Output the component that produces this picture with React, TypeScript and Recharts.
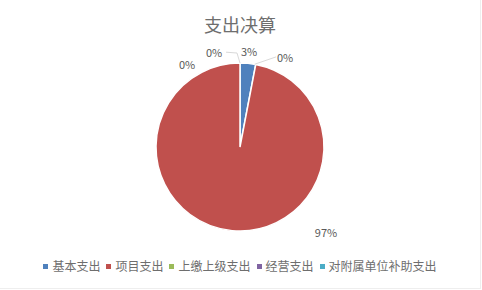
import React from "react";
import { PieChart, Pie, Cell, Legend } from "recharts";

const categories = ["基本支出", "项目支出", "上缴上级支出", "经营支出", "对附属单位补助支出"];
const values = [3, 97, 0, 0, 0];
const colors = ["#4f81bd", "#c0504d", "#9bbb59", "#8064a2", "#4bacc6"];
const title = "支出决算";

// label placement: angle (deg, counter-clockwise from 3 o'clock) and distance factor from pie centre
const labelAngles = [84.6, -44.7, 63.4, 105.3, 122.6];
const labelDist = [1.15, 1.44, 1.2, 1.17, 1.17];

const data = categories.map((name, i) => ({ name, value: values[i] }));

const FONT = "'Noto Sans CJK SC', 'Noto Sans', sans-serif";
const RAD = Math.PI / 180;

const renderLabel = (props: any) => {
  const { cx, cy, outerRadius, index, percent } = props;
  const a = labelAngles[index] * RAD;
  const d = outerRadius * labelDist[index];
  const x = cx + d * Math.cos(a);
  const y = cy - d * Math.sin(a);
  const text = `${Math.round((percent || 0) * 100)}%`;
  let line: React.ReactNode = null;
  if (index === 2) {
    const ea = 80 * RAD;
    const ex = cx + outerRadius * Math.cos(ea);
    const ey = cy - outerRadius * Math.sin(ea);
    line = (
      <polyline
        points={`${ex},${ey} ${x - 9},${y}`}
        fill="none"
        stroke="#d9d9d9"
        strokeWidth={1}
      />
    );
  } else if (index === 3) {
    const ex = cx;
    const ey = cy - outerRadius;
    line = (
      <polyline
        points={`${ex},${ey} ${ex - 3},${ey - 10} ${x + 12},${y}`}
        fill="none"
        stroke="#d9d9d9"
        strokeWidth={1}
      />
    );
  }
  return (
    <g key={`lbl-${index}`}>
      {line}
      <text
        x={x}
        y={y}
        textAnchor="middle"
        dominantBaseline="central"
        fill="#595959"
        fontSize={11}
        fontFamily={FONT}
      >
        {text}
      </text>
    </g>
  );
};

const renderLegend = () => (
  <div
    style={{
      display: "flex",
      justifyContent: "center",
      alignItems: "center",
      fontFamily: FONT,
      fontSize: 12,
      color: "#6e6e6e",
      lineHeight: "16px",
    }}
  >
    {categories.map((c, i) => (
      <span key={c} style={{ display: "inline-flex", alignItems: "center", marginRight: i < categories.length - 1 ? 6 : 0 }}>
        <span style={{ width: 5, height: 5, background: colors[i], display: "inline-block", marginRight: 4 }} />
        <span>{c}</span>
      </span>
    ))}
  </div>
);

export default function App() {
  return (
    <div
      style={{
        position: "absolute",
        left: 0,
        top: 0,
        width: 480,
        height: 288,
        background: "#fff",
        borderRight: "1px solid #eeeeee",
        borderBottom: "1px solid #eeeeee",
      }}
    >
      <div
        style={{
          position: "absolute",
          left: 0,
          top: 12,
          width: 480,
          textAlign: "center",
          fontFamily: FONT,
          fontSize: 18,
          color: "#6e6e6e",
          lineHeight: "24px",
        }}
      >
        {title}
      </div>
      <PieChart width={480} height={288} margin={{ top: 0, right: 0, bottom: 0, left: 0 }}>
        <Pie
          data={data}
          dataKey="value"
          nameKey="name"
          cx={240}
          cy={147}
          outerRadius={84}
          startAngle={90}
          endAngle={-270}
          stroke="#ffffff"
          strokeWidth={1.5}
          label={renderLabel}
          labelLine={false}
          isAnimationActive={false}
        >
          {data.map((d, i) => (
            <Cell key={d.name} fill={colors[i]} />
          ))}
        </Pie>
        <Legend
          content={renderLegend}
          verticalAlign="bottom"
          wrapperStyle={{ bottom: 14, left: 0, width: 480 }}
        />
      </PieChart>
    </div>
  );
}
